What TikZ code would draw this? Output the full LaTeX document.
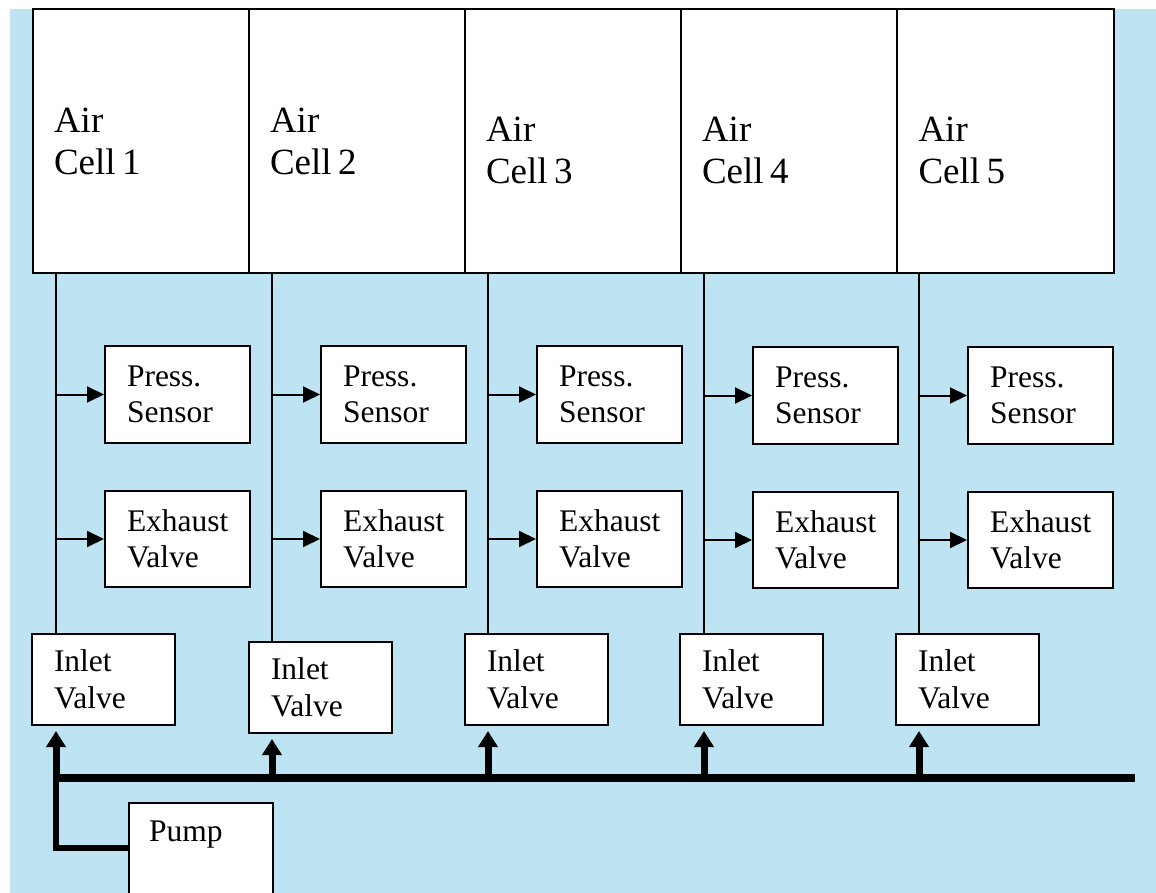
\documentclass[tikz,border=0pt]{standalone}
\usepackage{fontspec}
\setmainfont{Liberation Serif}
\usetikzlibrary{arrows.meta}
\definecolor{bgblue}{RGB}{190,228,243}
\begin{document}
\begin{tikzpicture}[x=1pt,y=-1pt,
  box/.style={draw=black,line width=2pt,fill=white,rectangle,align=left,
    inner ysep=0pt,inner xsep=22pt,anchor=north west},
  cellbox/.style={box,inner xsep=21pt,minimum width=216pt,minimum height=264pt,
    text width=174pt,text height=25.3pt,font=\fontsize{37}{42}\selectfont},
  lowcell/.style={cellbox,text height=43.3pt},
  smallbox/.style={box,text width=101pt,minimum width=145pt,minimum height=97pt,
    font=\fontsize{31.5}{36}\selectfont},
  inbox/.style={box,text width=99pt,minimum width=143pt,minimum height=91pt,
    font=\fontsize{31.5}{37}\selectfont},
  pumpbox/.style={box,inner xsep=20pt,text width=104pt,text height=38pt,text depth=100pt,
    font=\fontsize{31.5}{37}\selectfont},
  conn/.style={line width=2pt,draw=black},
  thinarrow/.style={conn,-{Triangle[width=16pt,length=17pt]}},
  fatarrow/.style={line width=7pt,draw=black,shorten >=5pt,-{Triangle[width=19pt,length=16pt]}},
  bus/.style={line width=8pt,draw=black},
  pumpline/.style={line width=6.5pt,draw=black,line join=miter}
]
\useasboundingbox (0,0) rectangle (1156,893);
\clip (0,0) rectangle (1156,893);
\fill[bgblue] (10,9) rectangle (1156,893);

% air cells
\node[cellbox] (c1) at (32,8) {Air\\Cell\hspace{6.5pt}1};
\node[cellbox] (c2) at (248,8) {Air\\Cell\hspace{6.5pt}2};
\node[lowcell] (c3) at (464,8) {Air\\Cell\hspace{6.5pt}3};
\node[lowcell] (c4) at (680,8) {Air\\Cell\hspace{6.5pt}4};
\node[lowcell,minimum width=217pt] (c5) at (896,8) {Air\\Cell\hspace{6.5pt}5};

% line tops
\coordinate (t1) at (56,272);
\coordinate (t2) at (272,272);
\coordinate (t3) at (488,272);
\coordinate (t4) at (704,272);
\coordinate (t5) at (919,272);

% pressure sensors
\node[smallbox] (ps1) at (104,345) {Press.\\Sensor};
\node[smallbox] (ps2) at (320,345) {Press.\\Sensor};
\node[smallbox] (ps3) at (536,345) {Press.\\Sensor};
\node[smallbox] (ps4) at (752,346) {Press.\\Sensor};
\node[smallbox] (ps5) at (967,346) {Press.\\Sensor};

% exhaust valves
\node[smallbox,minimum height=96pt] (ev1) at (104,490) {Exhaust\\Valve};
\node[smallbox,minimum height=96pt] (ev2) at (320,490) {Exhaust\\Valve};
\node[smallbox,minimum height=96pt] (ev3) at (536,490) {Exhaust\\Valve};
\node[smallbox,minimum height=96pt] (ev4) at (752,491) {Exhaust\\Valve};
\node[smallbox,minimum height=96pt] (ev5) at (967,491) {Exhaust\\Valve};

% inlet valves
\node[inbox] (in1) at (31,633) {Inlet\\Valve};
\node[inbox] (in2) at (248,641) {Inlet\\Valve};
\node[inbox] (in3) at (464,633) {Inlet\\Valve};
\node[inbox] (in4) at (679,633) {Inlet\\Valve};
\node[inbox] (in5) at (895,633) {Inlet\\Valve};

% pump
\node[pumpbox] (pump) at (128,802) {Pump};

% bus
\coordinate (busL) at (53,778);
\coordinate (busR) at (1135,778);
\draw[bus] (busL) -- (busR);

\foreach \i in {1,...,5} {
  \draw[conn] (t\i) -- (t\i |- in\i.north);
  \draw[thinarrow] (t\i |- ps\i.west) -- (ps\i.west);
  \draw[thinarrow] (t\i |- ev\i.west) -- (ev\i.west);
  \draw[fatarrow] (t\i |- busL) -- (t\i |- in\i.south);
}

% pump connection
\coordinate (pj) at (56,774);
\coordinate (pk) at (56,848);
\draw[pumpline] (pj) -- (pk) -- (pk -| pump.west);
\end{tikzpicture}
\end{document}
